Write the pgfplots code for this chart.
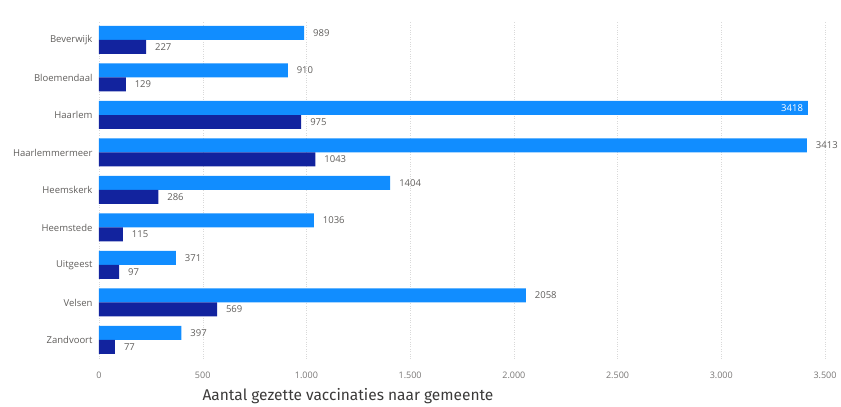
\documentclass[border=0pt]{standalone}
\usepackage{pgfplots}
\pgfplotsset{compat=1.18}
\usepackage{pgfplotstable}
\usepackage{fontspec}
\setmainfont{Open Sans}
\newfontfamily\titlefont{Fira Sans}
\definecolor{lb}{HTML}{118DFF}
\definecolor{db}{HTML}{12239E}
\definecolor{txt}{HTML}{605E5C}
\definecolor{ttl}{HTML}{3B3A39}

% y: 8 = Beverwijk (top) ... 0 = Zandvoort (bottom)
\pgfplotstableread{
y x lab
8 989 989
7 910 910
6 3418 {}
5 3413 3413
4 1404 1404
3 1036 1036
2 371 371
1 2058 2058
0 397 397
}\light
\pgfplotstableread{
y x lab
8 227 227
7 129 129
6 975 975
5 1043 1043
4 286 286
3 115 115
2 97 97
1 569 569
0 77 77
}\dark
\pgfplotstableread{
y x lab
6 3418 3418
}\haarlem

\begin{document}
\begin{tikzpicture}[x=1pt,y=1pt]
\useasboundingbox (0,0) rectangle (841,407);
\begin{axis}[
  at={(99pt,48.25pt)}, anchor=south west,
  scale only axis, width=726pt, height=337.5pt,
  xmin=0, xmax=3500, ymin=-0.5, ymax=8.5,
  axis line style={draw=none},
  major tick length=0pt,
  ytick={0,...,8},
  yticklabels={Zandvoort,Velsen,Uitgeest,Heemstede,Heemskerk,Haarlemmermeer,Haarlem,Bloemendaal,Beverwijk},
  yticklabel style={font=\fontsize{9.5}{11}\selectfont, text=txt, xshift=-3pt},
  xtick={0,500,...,3500},
  xticklabels={0,500,1.000,1.500,2.000,2.500,3.000,3.500},
  xticklabel style={font=\fontsize{9}{10}\selectfont, text=txt!85, yshift=-10pt},
  xmajorgrids, grid style={dotted, black!15},
  bar width=14pt,
  nodes near coords,
  point meta=explicit symbolic,
  nodes near coords style={font=\fontsize{9.5}{11}\selectfont, text=txt, anchor=west, xshift=5.5pt},
]
\addplot[xbar, bar shift=7pt, fill=lb, draw=none, nodes near coords style={yshift=7pt}] table[x=x, y=y, meta=lab] {\light};
\addplot[xbar, bar shift=-7pt, fill=db, draw=none, nodes near coords style={yshift=-7pt}] table[x=x, y=y, meta=lab] {\dark};
\addplot[xbar, bar shift=7pt, fill=lb, draw=none, nodes near coords style={anchor=east, text=white, xshift=-7pt, yshift=7pt}] table[x=x, y=y, meta=lab] {\haarlem};
\end{axis}
\node[font=\titlefont\fontsize{15.5}{17}\selectfont, text=ttl] at (348,11) {Aantal gezette vaccinaties naar gemeente};
\end{tikzpicture}
\end{document}
